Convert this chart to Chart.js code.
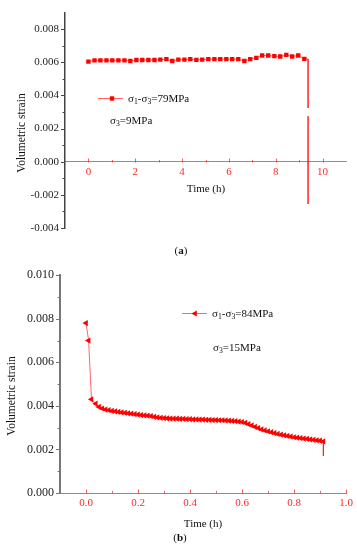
<!DOCTYPE html>
<html>
<head>
<meta charset="utf-8">
<script src="https://cdn.jsdelivr.net/npm/chart.js@4/dist/chart.umd.min.js"></script>
<style>
body {
    margin: 0;
    width: 357px;
    height: 550px;
    position: relative;
    overflow: hidden;
    background: #fff;
    font-family: "Liberation Serif", serif;
}
canvas { position: absolute; left: 0; }
#chartA { top: 0; }
#chartB { top: 262px; }
.txt {
    position: absolute;
    white-space: nowrap;
    color: #111;
    font-size: 11px;
    line-height: 1;
}
.mid { transform: translate(-50%, -50%); }
.lft { transform: translate(0, -50%); }
.rot { transform: translate(-50%, -50%) rotate(-90deg); }
sub { font-size: 0.7em; vertical-align: -0.3em; line-height: 0; }
</style>
</head>
<body>

<canvas id="chartA" width="357" height="262"></canvas>
<canvas id="chartB" width="357" height="288"></canvas>

<div class="txt rot" style="left:22px; top:133px; font-size:11.5px;">Volumetric strain</div>
<div class="txt mid" style="left:206px; top:188px;">Time (h)</div>
<div class="txt mid" style="left:181px; top:250px;">(<b>a</b>)</div>
<div class="txt lft" style="left:128px; top:98px;">σ<sub>1</sub>-σ<sub>3</sub>=79MPa</div>
<div class="txt lft" style="left:110px; top:120px;">σ<sub>3</sub>=9MPa</div>

<div class="txt rot" style="left:12px; top:396px; font-size:11.5px;">Volumetric strain</div>
<div class="txt mid" style="left:203px; top:523px;">Time (h)</div>
<div class="txt mid" style="left:180px; top:537px;">(<b>b</b>)</div>
<div class="txt lft" style="left:212px; top:313px;">σ<sub>1</sub>-σ<sub>3</sub>=84MPa</div>
<div class="txt lft" style="left:213px; top:347px;">σ<sub>3</sub>=15MPa</div>

<script>
// ==========================
// DATA (a)
// ==========================

const timeA = [
    0, 0.26, 0.51, 0.77, 1.02, 1.28, 1.54, 1.79, 2.05, 2.3,
    2.56, 2.82, 3.07, 3.33, 3.58, 3.84, 4.1, 4.35, 4.61, 4.86,
    5.12, 5.38, 5.63, 5.89, 6.14, 6.4, 6.66, 6.91, 7.17, 7.42,
    7.68, 7.94, 8.19, 8.45, 8.7, 8.96, 9.22
];

const strainA = [
    0.00604, 0.00612, 0.00612, 0.00612, 0.00612, 0.00612, 0.00612, 0.00608, 0.00614, 0.00614,
    0.00614, 0.00614, 0.00616, 0.00619, 0.00608, 0.00616, 0.00616, 0.00619, 0.00615, 0.00616,
    0.00619, 0.00619, 0.00619, 0.00619, 0.00619, 0.00619, 0.00608, 0.00619, 0.00627, 0.00641,
    0.00641, 0.00637, 0.00635, 0.00645, 0.00635, 0.00641, 0.00621
];

// failure drop (no markers)
const dropTimeA = [9.22, 9.38, 9.38, 9.38, 9.38, 9.38];
const dropStrainA = [0.00621, 0.0062, 0.00324, null, 0.00275, -0.00255];

const xTicksA = [0, 2, 4, 6, 8, 10];
const xMinorA = [1, 3, 5, 7, 9];
const yTicksA = [-0.004, -0.002, 0, 0.002, 0.004, 0.006, 0.008];
const yMinorA = [-0.003, -0.001, 0.001, 0.003, 0.005, 0.007];

// ==========================
// DATA (b)
// ==========================

const timeB = [
    0, 0.01, 0.021,
    0.0375, 0.05, 0.0625, 0.075, 0.0875,
    0.1, 0.1125, 0.125, 0.1375, 0.15, 0.1625, 0.175, 0.1875,
    0.2, 0.2125, 0.225, 0.2375, 0.25, 0.2625, 0.275, 0.2875,
    0.3, 0.3125, 0.325, 0.3375, 0.35, 0.3625, 0.375, 0.3875,
    0.4, 0.4125, 0.425, 0.4375, 0.45, 0.4625, 0.475, 0.4875,
    0.5, 0.5125, 0.525, 0.5375, 0.55, 0.5625, 0.575, 0.5875,
    0.6, 0.6125, 0.625, 0.6375, 0.65, 0.6625, 0.675, 0.6875,
    0.7, 0.7125, 0.725, 0.7375, 0.75, 0.7625, 0.775, 0.7875,
    0.8, 0.8125, 0.825, 0.8375, 0.85, 0.8625, 0.875, 0.8875,
    0.9, 0.9125
];

const strainB = [
    0.0078, 0.0070, 0.0043,
    0.0041, 0.00395, 0.00388, 0.00383, 0.0038,
    0.00377, 0.00375, 0.00372, 0.0037, 0.00368, 0.00366, 0.00364, 0.00362,
    0.0036, 0.00358, 0.00356, 0.00355, 0.00353, 0.0035, 0.00347, 0.00345,
    0.00344, 0.00343, 0.00342, 0.00341, 0.00341, 0.0034, 0.0034, 0.00339,
    0.00339, 0.00338, 0.00338, 0.00337, 0.00337, 0.00336, 0.00336, 0.00335,
    0.00335, 0.00334, 0.00334, 0.00333, 0.00332, 0.00331, 0.0033, 0.00328,
    0.00326, 0.00322, 0.00316, 0.0031, 0.00304, 0.00298, 0.00292, 0.00287,
    0.00283, 0.00279, 0.00275, 0.00271, 0.00268, 0.00265, 0.00262, 0.00259,
    0.00256, 0.00254, 0.00252, 0.0025, 0.00248, 0.00246, 0.00244, 0.00242,
    0.0024, 0.00237
];

const dropTimeB = [0.9125, 0.9125];
const dropStrainB = [0.00237, 0.0017];

const xTicksB = [0, 0.2, 0.4, 0.6, 0.8, 1.0];
const xMinorB = [0.1, 0.3, 0.5, 0.7, 0.9];
const yTicksB = [0, 0.002, 0.004, 0.006, 0.008, 0.010];
const yMinorB = [0.001, 0.003, 0.005, 0.007, 0.009];

// ==========================
// HELPERS
// ==========================

const RED = "#ff0000";
const RED_LINE = "rgba(255,0,0,0.6)";
const RED_AXIS = "rgba(255,40,40,0.75)";
const SERIF = "'Liberation Serif', serif";

function pts(xs, ys) {
    return xs.map((x, i) => ({ x: x, y: ys[i] }));
}

function seg(ctx, x1, y1, x2, y2) {
    ctx.beginPath();
    ctx.moveTo(x1, y1);
    ctx.lineTo(x2, y2);
    ctx.stroke();
}

// major + minor tick marks, drawn from the scales
const tickMarks = {
    id: "tickMarks",
    afterDraw(chart, args, o) {
        const ctx = chart.ctx;
        const area = chart.chartArea;
        const x = chart.scales.x;
        const y = chart.scales.y;
        const ax = area.left;
        const ay = Math.round(y.getPixelForValue(o.xAxisAt)) + 0.5;

        ctx.save();
        ctx.lineWidth = 1;

        ctx.strokeStyle = o.yColor;
        o.yMajor.forEach(v => {
            const p = Math.round(y.getPixelForValue(v)) + 0.5;
            seg(ctx, ax - 4, p, ax, p);
        });
        o.yMinor.forEach(v => {
            const p = Math.round(y.getPixelForValue(v)) + 0.5;
            seg(ctx, ax - 2.5, p, ax, p);
        });

        ctx.strokeStyle = RED_AXIS;
        o.xMajor.forEach(v => {
            const p = Math.round(x.getPixelForValue(v)) + 0.5;
            seg(ctx, p, ay, p, ay - 4);
        });
        o.xMinor.forEach(v => {
            const p = Math.round(x.getPixelForValue(v)) + 0.5;
            seg(ctx, p, ay, p, ay - 2.5);
        });

        ctx.restore();
    }
};

// legend sample: short line + marker
const legendSample = {
    id: "legendSample",
    afterDraw(chart, args, o) {
        const ctx = chart.ctx;
        ctx.save();
        ctx.strokeStyle = RED_LINE;
        ctx.lineWidth = 1;
        seg(ctx, o.x1, o.y + 0.5, o.x2, o.y + 0.5);
        ctx.fillStyle = RED;
        ctx.strokeStyle = RED;
        Chart.helpers.drawPoint(ctx, {
            pointStyle: o.style,
            rotation: o.rotation,
            radius: o.radius,
            borderWidth: 0
        }, o.mx, o.y + 0.5);
        ctx.restore();
    }
};

function buildChart(id, cfg) {
    return new Chart(document.getElementById(id), {
        type: "line",
        data: {
            datasets: [
                {
                    data: pts(cfg.xs, cfg.ys),
                    borderColor: RED_LINE,
                    borderWidth: 1,
                    backgroundColor: RED,
                    pointBackgroundColor: RED,
                    pointBorderColor: RED,
                    pointBorderWidth: 0,
                    pointStyle: cfg.pointStyle,
                    pointRotation: cfg.pointRotation,
                    pointRadius: cfg.pointRadius,
                    tension: 0
                },
                {
                    data: pts(cfg.dropXs, cfg.dropYs),
                    borderColor: RED_LINE,
                    backgroundColor: RED_LINE,
                    borderWidth: 1,
                    pointRadius: 0,
                    spanGaps: false,
                    tension: 0
                }
            ]
        },
        options: {
            responsive: false,
            animation: false,
            events: [],
            layout: { padding: cfg.padding },
            plugins: {
                legend: { display: false },
                tooltip: { enabled: false },
                tickMarks: {
                    xAxisAt: 0,
                    xMajor: cfg.xTicks,
                    xMinor: cfg.xMinor,
                    yMajor: cfg.yTicks,
                    yMinor: cfg.yMinor,
                    yColor: cfg.yColor
                },
                legendSample: cfg.legend
            },
            scales: {
                x: {
                    type: "linear",
                    position: { y: 0 },
                    min: cfg.xMin,
                    max: cfg.xMax,
                    afterBuildTicks: s => {
                        s.ticks = cfg.xTicks.map(v => ({ value: v }));
                    },
                    ticks: {
                        color: "#ff2a2a",
                        font: { family: SERIF, size: 11 },
                        padding: 4,
                        maxRotation: 0,
                        autoSkip: false,
                        callback: cfg.xFormat
                    },
                    grid: { display: false, drawTicks: false },
                    border: { display: true, color: RED_AXIS, width: 1 }
                },
                y: {
                    type: "linear",
                    min: cfg.yMin,
                    max: cfg.yMax,
                    afterBuildTicks: s => {
                        s.ticks = cfg.yTicks.map(v => ({ value: v }));
                    },
                    afterFit: s => {
                        s.width = cfg.yWidth;
                    },
                    ticks: {
                        color: "#222",
                        font: { family: SERIF, size: cfg.yFont },
                        padding: 6,
                        autoSkip: false,
                        callback: v => v.toFixed(3)
                    },
                    grid: { display: false, drawTicks: false },
                    border: { display: true, color: cfg.yColor, width: cfg.yBorder }
                }
            }
        },
        plugins: [tickMarks, legendSample]
    });
}

// ==========================
// CHART (a)
// ==========================

buildChart("chartA", {
    xs: timeA, ys: strainA,
    dropXs: dropTimeA, dropYs: dropStrainA,
    pointStyle: "rect", pointRotation: 0, pointRadius: 3.1,
    xMin: -1, xMax: 11, yMin: -0.004, yMax: 0.009,
    xTicks: xTicksA, xMinor: xMinorA,
    yTicks: yTicksA, yMinor: yMinorA,
    xFormat: v => String(v),
    yWidth: 65, yFont: 11, yColor: "#444", yBorder: 1.5,
    padding: { left: 0, right: 11, top: 7, bottom: 34 },
    legend: { x1: 98, x2: 123, mx: 112, y: 98, style: "rect", rotation: 0, radius: 3.1 }
});

// ==========================
// CHART (b)
// ==========================

buildChart("chartB", {
    xs: timeB, ys: strainB,
    dropXs: dropTimeB, dropYs: dropStrainB,
    pointStyle: "triangle", pointRotation: -90, pointRadius: 3.6,
    xMin: -0.1, xMax: 1.0, yMin: 0, yMax: 0.010,
    xTicks: xTicksB, xMinor: xMinorB,
    yTicks: yTicksB, yMinor: yMinorB,
    xFormat: v => v.toFixed(1),
    yWidth: 60, yFont: 12, yColor: "#777", yBorder: 2,
    padding: { left: 0, right: 10.5, top: 5, bottom: 57 },
    legend: { x1: 182, x2: 207, mx: 195, y: 51, style: "triangle", rotation: -90, radius: 3.6 }
});
</script>
</body>
</html>
